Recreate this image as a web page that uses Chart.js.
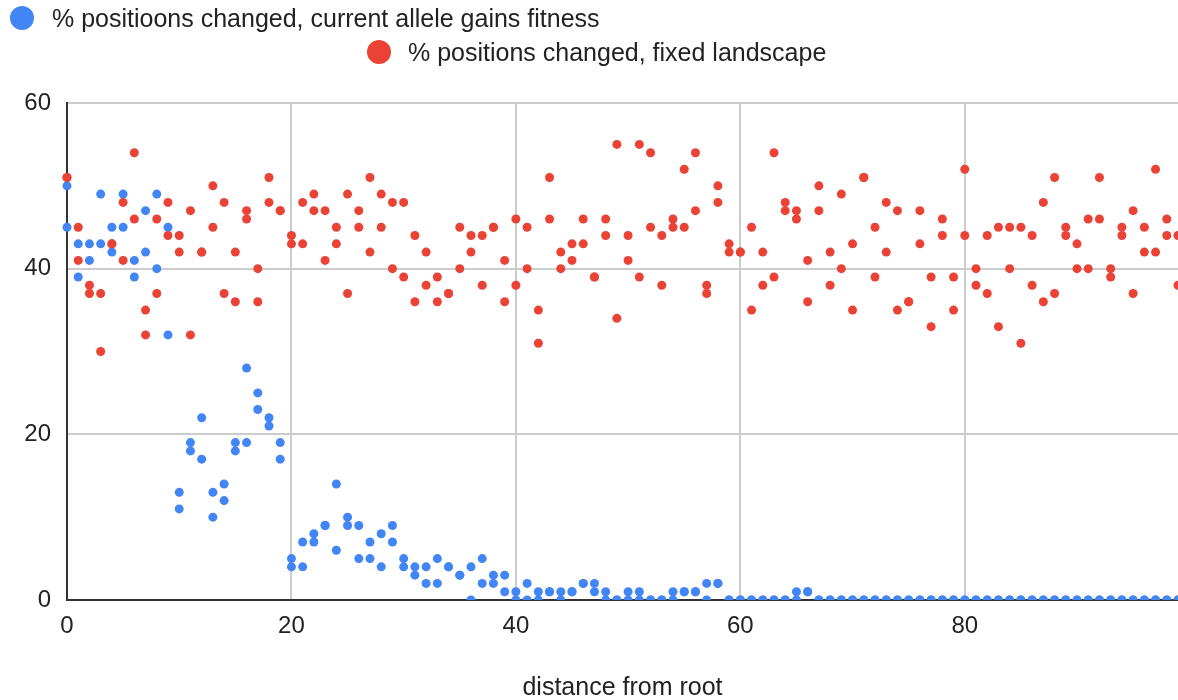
<!DOCTYPE html>
<html>
<head>
<meta charset="utf-8">
<script src="https://cdn.jsdelivr.net/npm/chart.js@4.4.1/dist/chart.umd.min.js"></script>
<style>
    body { margin: 0; background: #fff; }
    #wrap { position: relative; width: 1178px; height: 700px; }
    .legend_item { position: absolute; font-family: 'Liberation Sans', Arial, sans-serif; font-size: 25px; color: #222; white-space: nowrap; line-height: 28px; }
    .legend_dot { position: absolute; width: 24px; height: 24px; border-radius: 50%; }
</style>
</head>
<body>
<div id="wrap">
    <canvas id="scatterChart" width="1178" height="700"></canvas>
    <div class="legend_dot" style="left:10px; top:6px; background:#4285f4"></div>
    <div class="legend_item" style="left:52px; top:4px">% positioons changed, current allele gains fitness</div>
    <div class="legend_dot" style="left:367px; top:40px; background:#ea4335"></div>
    <div class="legend_item" style="left:408px; top:38px">% positions changed, fixed landscape</div>
</div>
<script>
// distance from root = array index (0..99), two runs per series
const fitnessRunA = [50, 43, 43, 49, 45, 49, 41, 47, 49, 45, 13, 19, 22, 13, 14, 19, 28, 25, 22, 19,
    5, 7, 8, 9, 14, 10, 9, 7, 8, 9, 5, 4, 4, 5, 4, 3, 4, 5, 3, 3,
    1, 2, 1, 1, 1, 1, 2, 2, 1, 0, 1, 1, 0, 0, 1, 1, 1, 2, 2, 0,
    0, 0, 0, 0, 0, 1, 1, 0, 0, 0, 0, 0, 0, 0, 0, 0, 0, 0, 0, 0,
    0, 0, 0, 0, 0, 0, 0, 0, 0, 0, 0, 0, 0, 0, 0, 0, 0, 0, 0, 0]
const fitnessRunB = [45, 39, 41, 43, 42, 45, 39, 42, 40, 32, 11, 18, 17, 10, 12, 18, 19, 23, 21, 17,
    4, 4, 7, 9, 6, 9, 5, 5, 4, 7, 4, 3, 2, 2, 4, 3, 0, 2, 2, 1,
    0, 0, 0, 1, 0, 1, 2, 1, 0, 0, 0, 0, 0, 0, 0, 1, 1, 0, 2, 0,
    0, 0, 0, 0, 0, 0, 1, 0, 0, 0, 0, 0, 0, 0, 0, 0, 0, 0, 0, 0,
    0, 0, 0, 0, 0, 0, 0, 0, 0, 0, 0, 0, 0, 0, 0, 0, 0, 0, 0, 0]
const fixedRunA = [51, 45, 38, 37, 43, 48, 54, 35, 46, 48, 44, 47, 42, 50, 48, 42, 47, 40, 51, 47,
    44, 48, 49, 47, 45, 49, 47, 51, 49, 48, 48, 44, 42, 39, 37, 45, 44, 44, 45, 41,
    46, 45, 35, 51, 42, 43, 46, 39, 46, 55, 44, 55, 54, 44, 46, 52, 54, 38, 50, 43,
    42, 45, 42, 54, 48, 47, 41, 50, 42, 49, 43, 51, 45, 48, 47, 36, 47, 39, 46, 39,
    52, 40, 44, 45, 45, 45, 44, 48, 51, 45, 43, 46, 51, 40, 45, 47, 45, 52, 46, 44]
const fixedRunB = [51, 41, 37, 30, 43, 41, 46, 32, 37, 44, 42, 32, 42, 45, 37, 36, 46, 36, 48, 47,
    43, 43, 47, 41, 43, 37, 45, 42, 45, 40, 39, 36, 38, 36, 37, 40, 42, 38, 45, 36,
    38, 40, 31, 46, 40, 41, 43, 39, 44, 34, 41, 39, 45, 38, 45, 45, 47, 37, 48, 42,
    42, 35, 38, 39, 47, 46, 36, 47, 38, 40, 35, 51, 39, 42, 35, 36, 43, 33, 44, 35,
    44, 38, 37, 33, 40, 31, 38, 36, 37, 44, 40, 40, 46, 39, 44, 37, 42, 42, 44, 38]
const xTicks = [0, 20, 40, 60, 80]
const yTicks = [0, 20, 40, 60]

const toPoints = (runs) => runs.flatMap(run => run.map((v, i) => ({ x: i, y: v })))

const font = { family: "'Liberation Sans', Arial, sans-serif", size: 24 }

const data = {
    datasets: [
        {
            label: '% positioons changed, current allele gains fitness',
            data: toPoints([fitnessRunA, fitnessRunB]),
            backgroundColor: '#4285f4',
            borderWidth: 0,
            pointRadius: 4.5,
            order: 2,
            clip: { left: 10, top: 10, right: 0, bottom: 0 },
        },
        {
            label: '% positions changed, fixed landscape',
            data: toPoints([fixedRunA, fixedRunB]),
            backgroundColor: '#ea4335',
            borderWidth: 0,
            pointRadius: 4.5,
            order: 1,
            clip: { left: 10, top: 10, right: 0, bottom: 0 },
        }
    ]
}

const config = {
    type: 'scatter',
    data: data,
    options: {
        responsive: false,
        animation: false,
        layout: { autoPadding: false, padding: { top: 103, right: 0, left: 0, bottom: 0 } },
        scales: {
            x: {
                type: 'linear',
                min: 0,
                max: 99,
                afterFit: (s) => { s.height = 100 },
                afterBuildTicks: (s) => { s.ticks = xTicks.map(v => ({ value: v })) },
                grid: {
                    color: (c) => c.tick && c.tick.value === 0 ? 'rgba(0,0,0,0)' : '#cccccc',
                    lineWidth: 2,
                    drawTicks: false,
                },
                border: { color: '#333333', width: 2 },
                ticks: { color: '#222', font: font, padding: 12, maxRotation: 0 },
                title: {
                    display: true,
                    text: 'distance from root',
                    color: '#222',
                    font: { family: font.family, size: 25 },
                    padding: { top: 42, bottom: -3 },
                },
            },
            y: {
                min: 0,
                max: 60,
                afterFit: (s) => { s.width = 67 },
                afterBuildTicks: (s) => { s.ticks = yTicks.map(v => ({ value: v })) },
                grid: {
                    color: (c) => c.tick && c.tick.value === 0 ? 'rgba(0,0,0,0)' : '#cccccc',
                    lineWidth: 2,
                    drawTicks: false,
                },
                border: { color: '#333333', width: 2 },
                ticks: { color: '#222', font: font, padding: 16 },
            }
        },
        plugins: {
            legend: { display: false },
            tooltip: { enabled: false },
        }
    },
    plugins: []
}

new Chart(document.getElementById('scatterChart'), config)
</script>
</body>
</html>
